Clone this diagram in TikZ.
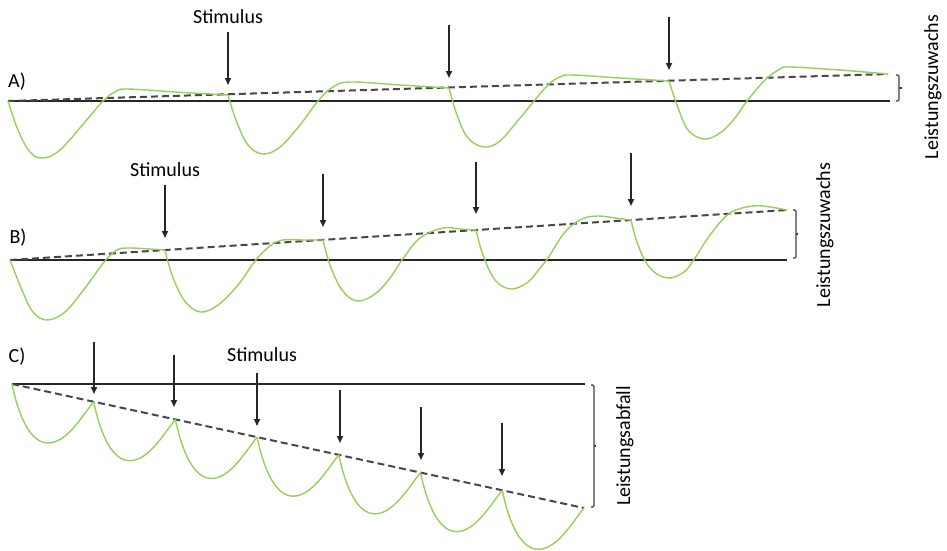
\documentclass[tikz,border=0pt]{standalone}
\usepackage{fontspec}
\setmainfont{Carlito}
\usetikzlibrary{arrows.meta, positioning, calc}
\definecolor{curvegreen}{RGB}{150,208,90}

\begin{document}
\begin{tikzpicture}[x=1pt, y=-1pt,
    font=\fontsize{20}{24}\selectfont,
    axisline/.style={line width=1.4pt, black!85},
    trendline/.style={line width=2pt, black!72, dash pattern=on 7pt off 4pt},
    response/.style={line width=1.4pt, curvegreen},
    stimarrow/.style={line width=1.6pt, black!85, -{Triangle[length=7pt,width=6pt]}},
    bracebar/.style={line width=1.3pt, black!75, rounded corners=1.2pt},
    vlabel/.style={rotate=90, inner sep=0pt}]

    \useasboundingbox (0,0) rectangle (947,550);

    % ---------------------------------------------------
    % A) Leistungszuwachs, kleiner Anstieg
    % ---------------------------------------------------
    \node (labA) at (17,82) {A)};
    \coordinate (A0) at (8,101);
    \coordinate (Aend) at (888,74);
    \coordinate (Abase) at (890,101);
    \draw[axisline] (A0) -- (Abase);
    \draw[trendline] (A0) -- (Aend);

    \draw[response] plot[smooth, tension=0.6] coordinates {(8,101) (18,130) (30,152) (43,158) (60,150) (85,122) (103,101) (115,92) (127,89) (175,92) (228,95)};
    \draw[response] plot[smooth, tension=0.6] coordinates {(228,95) (236,120) (248,145) (263,154) (280,147) (300,125) (318,101) (333,87) (350,82) (400,85) (449,88)};
    \draw[response] plot[smooth, tension=0.6] coordinates {(449,88) (457,115) (468,138) (484,147) (500,141) (520,118) (547,86) (560,77) (572,75) (620,78) (669,81)};
    \draw[response] plot[smooth, tension=0.6] coordinates {(669,81) (677,105) (688,130) (704,139) (720,133) (735,118) (747,101) (765,80) (780,69) (790,67) (840,70) (888,74)};

    \node (stimA) at (228,17) {Stimulus};
    \foreach \n/\x/\ya/\yb in {1/228/32/85, 2/449/25/78, 3/669/17/70} {
        \coordinate (A\n top) at (\x,\ya);
        \coordinate (A\n tip) at (\x,\yb);
        \draw[stimarrow] (A\n top) -- (A\n tip);
    }

    \coordinate (Abtop) at (899,75);
    \coordinate (Abbot) at (899,101);
    \draw[bracebar] ([xshift=-3pt]Abtop) -- (Abtop) -- (Abbot) -- ([xshift=-3pt]Abbot);
    \draw[bracebar] ($(Abtop)!0.5!(Abbot)$) -- ++(3,0);
    \node[vlabel] (gainA) at (933,87) {Leistungszuwachs};

    % ---------------------------------------------------
    % B) Leistungszuwachs, grosser Anstieg
    % ---------------------------------------------------
    \node (labB) at (18,238) {B)};
    \coordinate (B0) at (10,260);
    \coordinate (Bend) at (787,210);
    \coordinate (Bbase) at (787,260);
    \draw[axisline] (B0) -- (Bbase);
    \draw[trendline] (B0) -- (Bend);

    \draw[response] plot[smooth, tension=0.6] coordinates {(10,260) (22,290) (33,312) (47,320) (65,312) (85,288) (105,261) (117,250) (128,248) (150,249) (165,250)};
    \draw[response] plot[smooth, tension=0.6] coordinates {(165,250) (172,275) (184,300) (200,312) (218,305) (238,285) (255,261) (270,246) (283,240) (305,240) (323,240)};
    \draw[response] plot[smooth, tension=0.6] coordinates {(323,240) (330,265) (342,290) (357,301) (375,294) (390,278) (402,260) (420,238) (443,228) (460,229) (476,230)};
    \draw[response] plot[smooth, tension=0.6] coordinates {(476,230) (483,255) (495,280) (511,289) (528,282) (540,268) (548,258) (565,232) (582,219) (598,216) (615,218) (631,220)};
    \draw[response] plot[smooth, tension=0.6] coordinates {(631,220) (638,245) (650,268) (667,278) (684,272) (695,258) (710,235) (730,213) (753,206) (770,207) (787,210)};

    \node (stimB) at (165,170) {Stimulus};
    \foreach \n/\x/\ya/\yb in {1/165/185/238, 2/323/174/227, 3/476/162/214, 4/631/153/206} {
        \coordinate (B\n top) at (\x,\ya);
        \coordinate (B\n tip) at (\x,\yb);
        \draw[stimarrow] (B\n top) -- (B\n tip);
    }

    \coordinate (Bbtop) at (796,210);
    \coordinate (Bbbot) at (796,258);
    \draw[bracebar] ([xshift=-3pt]Bbtop) -- (Bbtop) -- (Bbbot) -- ([xshift=-3pt]Bbbot);
    \draw[bracebar] ($(Bbtop)!0.5!(Bbbot)$) -- ++(2,0);
    \node[vlabel] (gainB) at (825,235) {Leistungszuwachs};

    % ---------------------------------------------------
    % C) Leistungsabfall
    % ---------------------------------------------------
    \node (labC) at (17,357) {C)};
    \coordinate (C0) at (12,384);
    \coordinate (Cend) at (584,508);
    \coordinate (Cbase) at (585,384);
    \draw[axisline] (C0) -- (Cbase);
    \draw[trendline] (C0) -- (Cend);

    % Abfallende Boegen zwischen den Stimuli
    \foreach \i in {0,...,6} {
        \pgfmathsetmacro{\xa}{12+81.71*\i}
        \pgfmathsetmacro{\ya}{384+0.21678*(\xa-12)}
        \draw[response] (\xa,\ya) .. controls (\xa+7,\ya+34) and (\xa+19,\ya+59) .. (\xa+36,\ya+59)
            .. controls (\xa+55,\ya+59) and (\xa+70,\ya+32) .. (\xa+81.71,\ya+17.7);
    }

    \node (stimC) at (262,355) {Stimulus};
    \foreach \n/\x/\ya/\yb in {1/94/342/394, 2/174/355/407, 3/257/373/426, 4/340/390/443, 5/421/407/460, 6/502/423/476} {
        \coordinate (C\n top) at (\x,\ya);
        \coordinate (C\n tip) at (\x,\yb);
        \draw[stimarrow] (C\n top) -- (C\n tip);
    }

    \coordinate (Cbtop) at (594,385);
    \coordinate (Cbbot) at (594,507);
    \draw[bracebar] ([xshift=-3pt]Cbtop) -- (Cbtop) -- (Cbbot) -- ([xshift=-3pt]Cbbot);
    \draw[bracebar] ($(Cbtop)!0.5!(Cbbot)$) -- ++(2,0);
    \node[vlabel] (lossC) at (625,446) {Leistungsabfall};

\end{tikzpicture}
\end{document}
